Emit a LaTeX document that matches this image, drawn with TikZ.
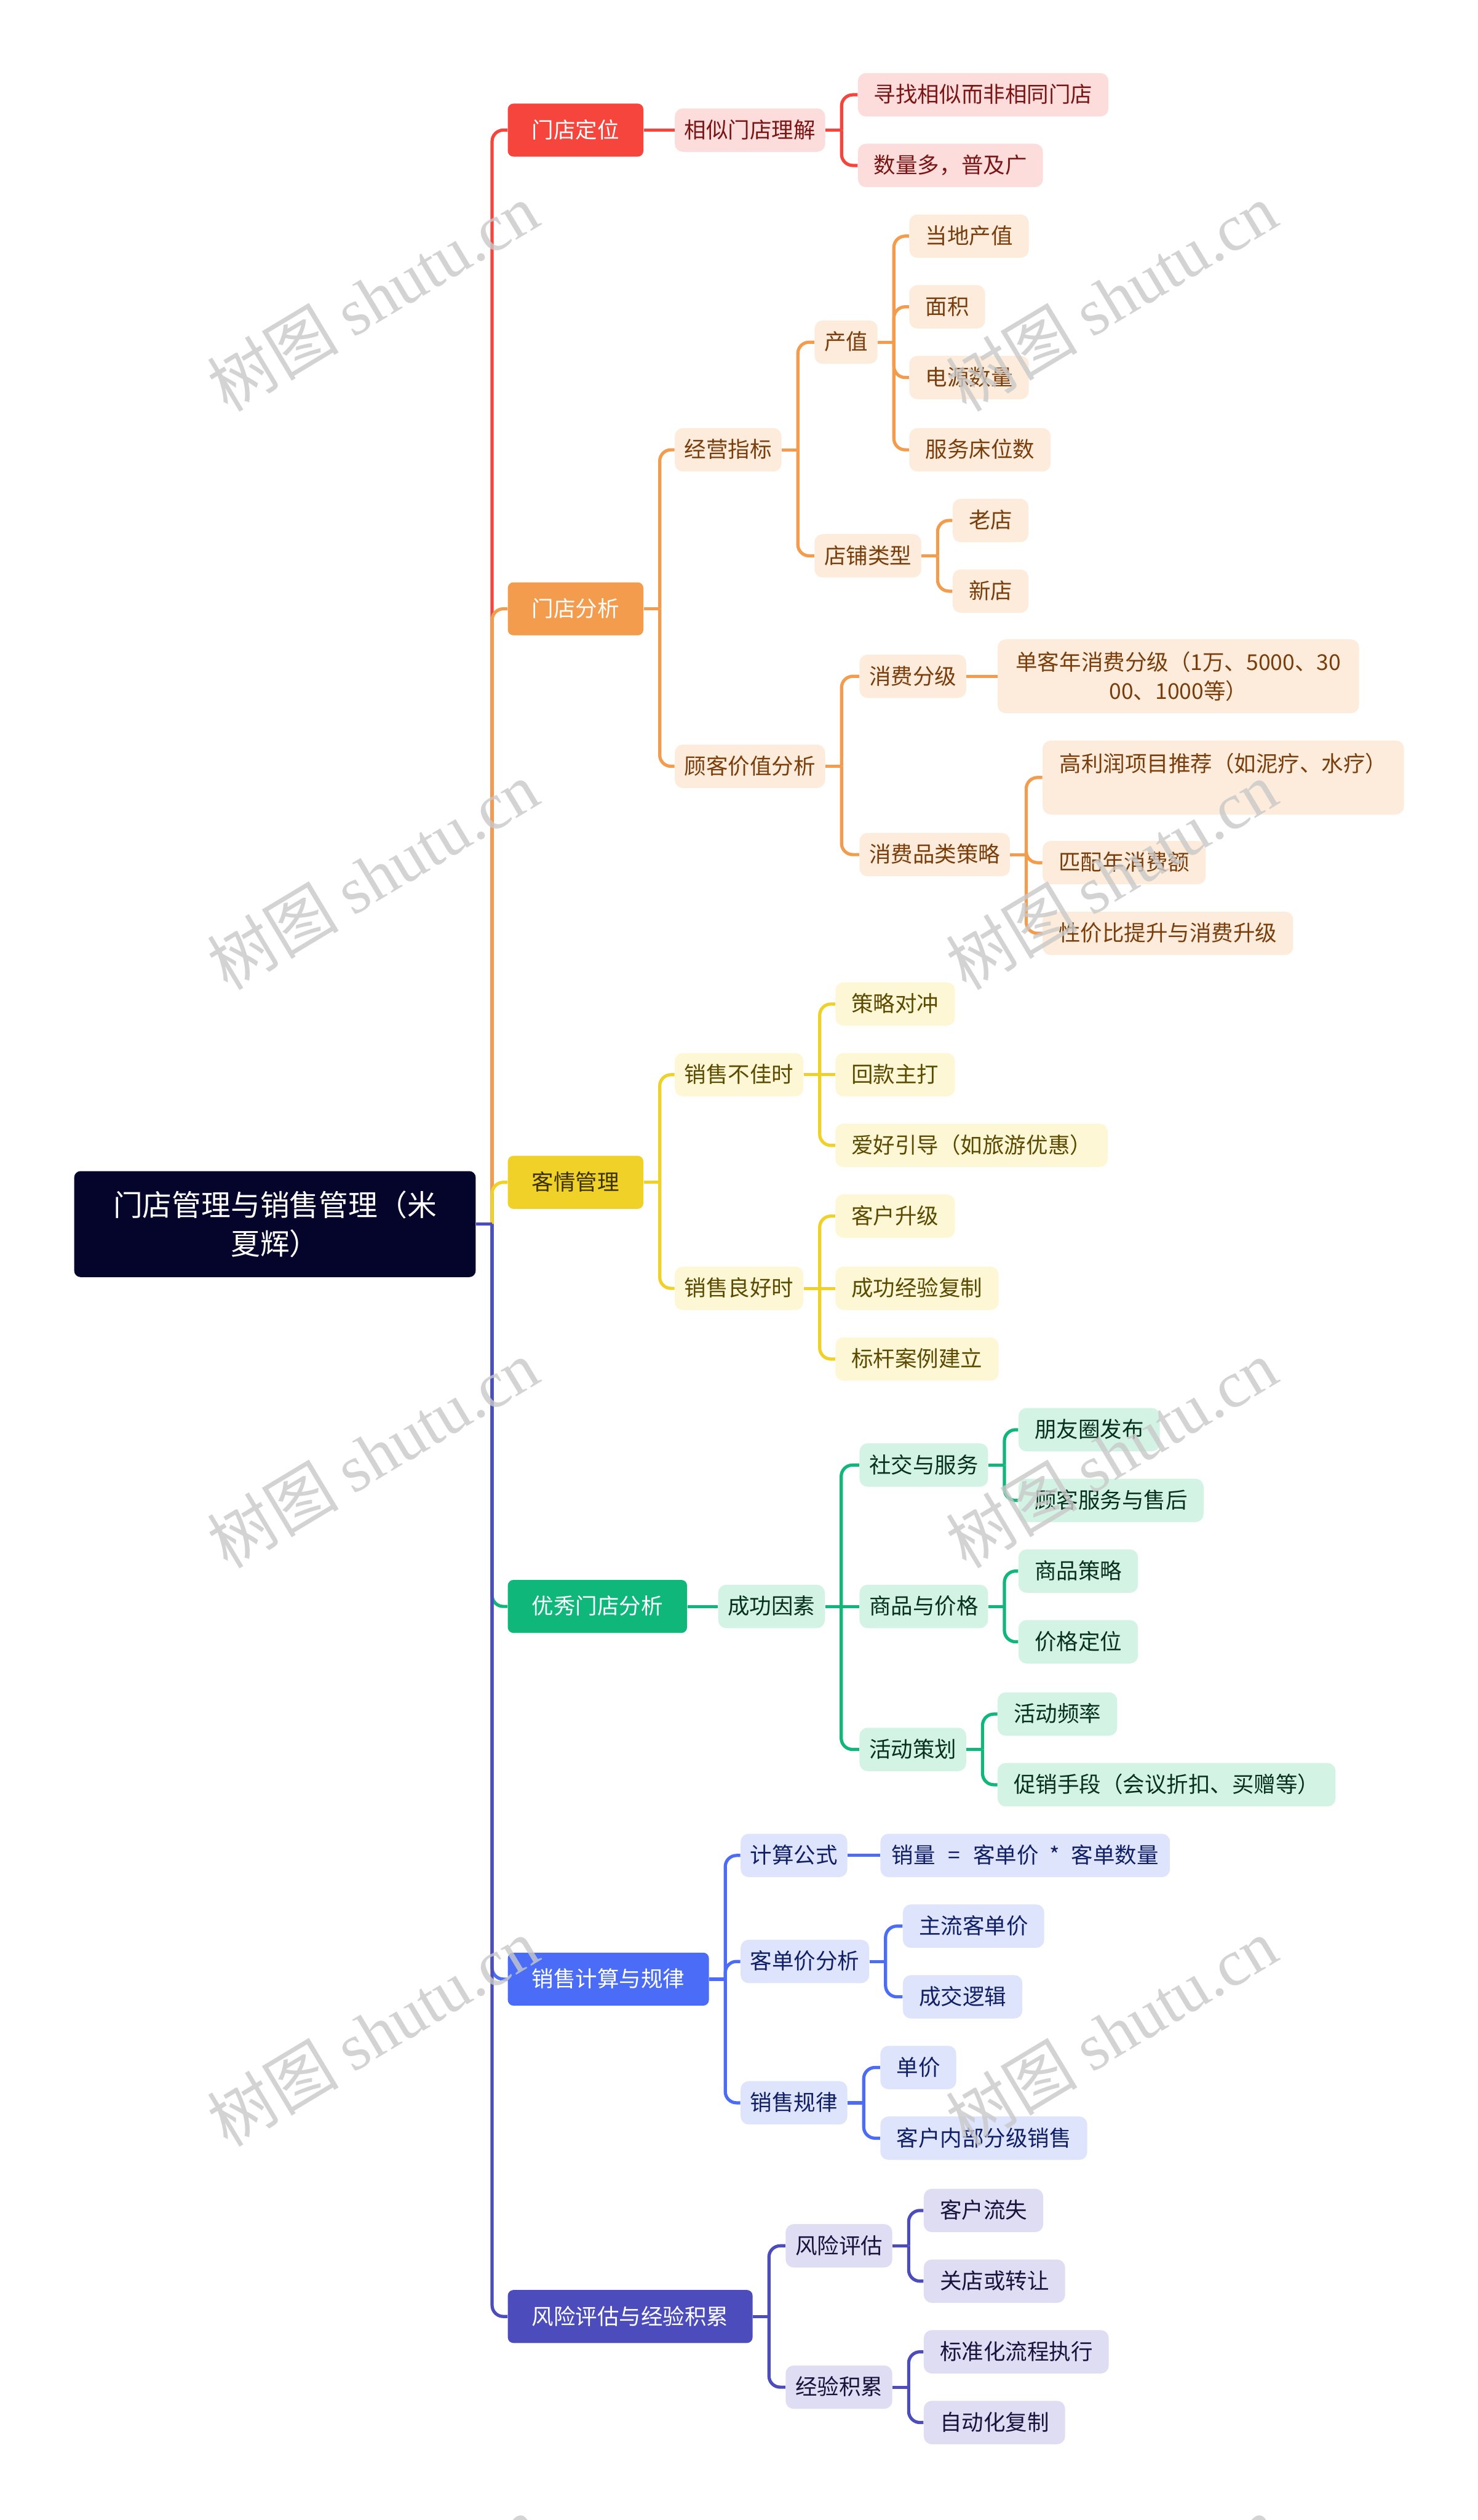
\documentclass[tikz,border=0pt]{standalone}
\usepackage{fontspec}
\setmainfont{Noto Sans CJK SC}
\newfontfamily\wmlatin{Liberation Serif}
\usetikzlibrary{calc,backgrounds}
\definecolor{rootc}{HTML}{05052B}
\definecolor{redM}{HTML}{F5453C}\definecolor{redL}{HTML}{FDDCDC}\definecolor{redT}{HTML}{7A1515}
\definecolor{oraM}{HTML}{F39C4E}\definecolor{oraL}{HTML}{FDECDC}\definecolor{oraT}{HTML}{7A3E0C}
\definecolor{yelM}{HTML}{F0D127}\definecolor{yelL}{HTML}{FDF7D6}\definecolor{yelT}{HTML}{5B4A00}\definecolor{yelD}{HTML}{3A3000}
\definecolor{grnM}{HTML}{10B77B}\definecolor{grnL}{HTML}{D3F3E5}\definecolor{grnT}{HTML}{08301F}
\definecolor{bluM}{HTML}{4B6CF7}\definecolor{bluL}{HTML}{DDE4FC}\definecolor{bluT}{HTML}{101F66}
\definecolor{indM}{HTML}{4C4CBD}\definecolor{indL}{HTML}{DFDDF4}\definecolor{indT}{HTML}{16133D}
\definecolor{wmc}{HTML}{C9C9C9}
\tikzset{
  base/.style={anchor=west, rounded corners=5pt, inner ysep=0pt, font=\fontsize{13.6}{18}\selectfont},
  txt/.style={text height=11.2pt, text depth=1.4pt},
  lone/.style={base, txt, rounded corners=3.5pt, minimum height=33pt, inner xsep=15pt, fill=#1, text=white},
  mid/.style={base, txt, minimum height=27pt, inner xsep=6pt},
  leaf/.style={base, txt, minimum height=27pt, inner xsep=10pt},
  leaftwo/.style={base, minimum height=46pt, inner xsep=10pt, align=center},
  rB/.style={fill=redL, text=redT},
  oB/.style={fill=oraL, text=oraT},
  yB/.style={fill=yelL, text=yelT},
  gB/.style={fill=grnL, text=grnT},
  bB/.style={fill=bluL, text=bluT},
  iB/.style={fill=indL, text=indT},
  conn/.style={line width=2pt, draw=#1},
  rootbox/.style={anchor=west, fill=rootc, text=white, rounded corners=4pt, minimum width=250pt, minimum height=66pt, align=center, inner sep=0pt, font=\fontsize{18.3}{24}\selectfont},
  wm/.style={text=wmc, opacity=0.8, rotate=31, inner sep=0pt, font=\fontsize{41}{43}\selectfont}
}
\newcommand{\lk}[3]{\draw[conn=#1] (#2.east) -- ++(10,0);
  \draw[conn=#1, rounded corners=7pt] ($(#2.east)+(10,0)$) |- (#3.west);}
\newcommand{\lks}[3]{\draw[conn=#1] (#2.east) -- (#3.west);}
\begin{document}
\begin{tikzpicture}[x=1pt, y=-1pt]
\useasboundingbox (0,0) rectangle (920,1568.7);
% root
\node[rootbox] (root) at (46,762) {门店管理与销售管理（米\\夏辉）};
% red branch
\node[lone=redM] (a1) at (316,81) {门店定位};
\node[mid, rB] (a11) at (420,81) {相似门店理解};
\node[leaf, rB] (a111) at (534,59) {寻找相似而非相同门店};
\node[leaf, rB] (a112) at (534,103) {数量多，普及广};
% orange branch
\node[lone=oraM] (b1) at (316,379) {门店分析};
\node[mid, oB] (b11) at (420,280) {经营指标};
\node[mid, oB] (b111) at (507,213) {产值};
\node[leaf, oB] (b1111) at (566,147) {当地产值};
\node[leaf, oB] (b1112) at (566,191) {面积};
\node[leaf, oB] (b1113) at (566,235) {电源数量};
\node[leaf, oB] (b1114) at (566,280) {服务床位数};
\node[mid, oB] (b112) at (507,346) {店铺类型};
\node[leaf, oB] (b1121) at (593,324) {老店};
\node[leaf, oB] (b1122) at (593,368) {新店};
\node[mid, oB] (b12) at (420,477) {顾客价值分析};
\node[mid, oB] (b121) at (535,421) {消费分级};
\node[leaftwo, oB, minimum width=225pt] (b1211) at (621,421) {单客年消费分级（1万、5000、30\\00、1000等）};
\node[mid, oB] (b122) at (535,532) {消费品类策略};
\node[leaftwo, oB, minimum width=225pt] (b1221) at (649,484) {高利润项目推荐（如泥疗、水疗）\\\phantom{高}};
\node[leaf, oB] (b1222) at (649,537) {匹配年消费额};
\node[leaf, oB] (b1223) at (649,581) {性价比提升与消费升级};
% yellow branch
\node[lone=yelM, text=yelD] (c1) at (316,736) {客情管理};
\node[mid, yB] (c11) at (420,669) {销售不佳时};
\node[leaf, yB] (c111) at (520,625) {策略对冲};
\node[leaf, yB] (c112) at (520,669) {回款主打};
\node[leaf, yB] (c113) at (520,713) {爱好引导（如旅游优惠）};
\node[mid, yB] (c12) at (420,802) {销售良好时};
\node[leaf, yB] (c121) at (520,757) {客户升级};
\node[leaf, yB] (c122) at (520,802) {成功经验复制};
\node[leaf, yB] (c123) at (520,846) {标杆案例建立};
% green branch
\node[lone=grnM] (d1) at (316,1000) {优秀门店分析};
\node[mid, gB] (d11) at (447,1000) {成功因素};
\node[mid, gB] (d111) at (535,912) {社交与服务};
\node[leaf, gB] (d1111) at (634,890) {朋友圈发布};
\node[leaf, gB] (d1112) at (634,934) {顾客服务与售后};
\node[mid, gB] (d112) at (535,1000) {商品与价格};
\node[leaf, gB] (d1121) at (634,978) {商品策略};
\node[leaf, gB] (d1122) at (634,1022) {价格定位};
\node[mid, gB] (d113) at (535,1089) {活动策划};
\node[leaf, gB] (d1131) at (621,1067) {活动频率};
\node[leaf, gB] (d1132) at (621,1111) {促销手段（会议折扣、买赠等）};
% blue branch
\node[lone=bluM] (e1) at (316,1232) {销售计算与规律};
\node[mid, bB] (e11) at (461,1155) {计算公式};
\node[leaf, bB, inner xsep=7pt] (e111) at (548,1155) {销量\hspace{8pt}=\hspace{8pt}客单价\hspace{7pt}*\hspace{7pt}客单数量};
\node[mid, bB] (e12) at (461,1221) {客单价分析};
\node[leaf, bB] (e121) at (562,1199) {主流客单价};
\node[leaf, bB] (e122) at (562,1243) {成交逻辑};
\node[mid, bB] (e13) at (461,1309) {销售规律};
\node[leaf, bB] (e131) at (548,1287) {单价};
\node[leaf, bB] (e132) at (548,1331) {客户内部分级销售};
% indigo branch
\node[lone=indM] (f1) at (316,1442) {风险评估与经验积累};
\node[mid, iB] (f11) at (489,1398) {风险评估};
\node[leaf, iB] (f111) at (575,1376) {客户流失};
\node[leaf, iB] (f112) at (575,1420) {关店或转让};
\node[mid, iB] (f12) at (489,1486) {经验积累};
\node[leaf, iB] (f121) at (575,1464) {标准化流程执行};
\node[leaf, iB] (f122) at (575,1508) {自动化复制};
% connectors
\begin{pgfonlayer}{background}
\fill[white] (0,0) rectangle (920,1568.7);
\lk{redM}{root}{a1}
\lks{redM}{a1}{a11}
\lk{redM}{a11}{a111}
\lk{redM}{a11}{a112}
\lk{oraM}{root}{b1}
\lk{oraM}{b1}{b11}
\lk{oraM}{b1}{b12}
\lk{oraM}{b11}{b111}
\lk{oraM}{b11}{b112}
\lk{oraM}{b111}{b1111}
\lk{oraM}{b111}{b1112}
\lk{oraM}{b111}{b1113}
\lk{oraM}{b111}{b1114}
\lk{oraM}{b112}{b1121}
\lk{oraM}{b112}{b1122}
\lk{oraM}{b12}{b121}
\lk{oraM}{b12}{b122}
\lks{oraM}{b121}{b1211}
\lk{oraM}{b122}{b1221}
\lk{oraM}{b122}{b1222}
\lk{oraM}{b122}{b1223}
\lk{yelM}{root}{c1}
\lk{yelM}{c1}{c11}
\lk{yelM}{c1}{c12}
\lk{yelM}{c11}{c111}
\lks{yelM}{c11}{c112}
\lk{yelM}{c11}{c113}
\lk{yelM}{c12}{c121}
\lks{yelM}{c12}{c122}
\lk{yelM}{c12}{c123}
\lk{grnM}{root}{d1}
\lks{grnM}{d1}{d11}
\lk{grnM}{d11}{d111}
\lks{grnM}{d11}{d112}
\lk{grnM}{d11}{d113}
\lk{grnM}{d111}{d1111}
\lk{grnM}{d111}{d1112}
\lk{grnM}{d112}{d1121}
\lk{grnM}{d112}{d1122}
\lk{grnM}{d113}{d1131}
\lk{grnM}{d113}{d1132}
\lk{bluM}{root}{e1}
\lk{bluM}{e1}{e11}
\lk{bluM}{e1}{e12}
\lk{bluM}{e1}{e13}
\lks{bluM}{e11}{e111}
\lk{bluM}{e12}{e121}
\lk{bluM}{e12}{e122}
\lk{bluM}{e13}{e131}
\lk{bluM}{e13}{e132}
\lk{indM}{root}{f1}
\lk{indM}{f1}{f11}
\lk{indM}{f1}{f12}
\lk{indM}{f11}{f111}
\lk{indM}{f11}{f112}
\lk{indM}{f12}{f121}
\lk{indM}{f12}{f122}
\end{pgfonlayer}
% watermarks
\node[wm] (w1) at (232,185) {树图 {\wmlatin shutu.cn}};
\node[wm] (w2) at (692,185) {树图 {\wmlatin shutu.cn}};
\node[wm] (w3) at (232,545) {树图 {\wmlatin shutu.cn}};
\node[wm] (w4) at (692,545) {树图 {\wmlatin shutu.cn}};
\node[wm] (w5) at (232,905) {树图 {\wmlatin shutu.cn}};
\node[wm] (w6) at (692,905) {树图 {\wmlatin shutu.cn}};
\node[wm] (w7) at (232,1265) {树图 {\wmlatin shutu.cn}};
\node[wm] (w8) at (692,1265) {树图 {\wmlatin shutu.cn}};
\node[wm] (w9) at (232,1625) {树图 {\wmlatin shutu.cn}};
\node[wm] (w10) at (692,1625) {树图 {\wmlatin shutu.cn}};
\end{tikzpicture}
\end{document}
